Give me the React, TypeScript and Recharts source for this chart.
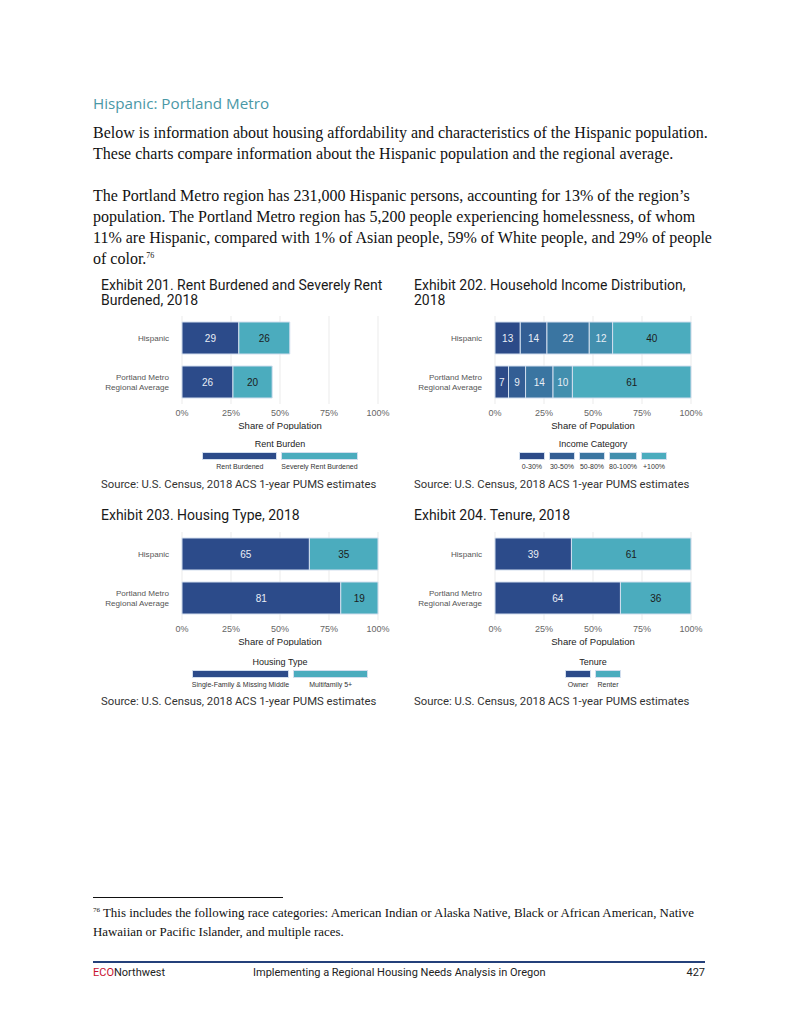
import React from 'react';
import { BarChart, Bar, XAxis, YAxis, CartesianGrid, LabelList } from 'recharts';

// categories shared by all four exhibits (line break = label wrap)
const CATEGORIES = ['Hispanic', 'Portland Metro\nRegional Average'];
const X_TICKS = [0, 25, 50, 75, 100];

// Exhibit 201 – rent burden (% of households)
const RENT_BURDENED = [29, 26];
const SEVERELY_BURDENED = [26, 20];

// Exhibit 202 – household income distribution (% share)
const INC_0_30 = [12.9, 6.9];
const INC_30_50 = [13.6, 8.7];
const INC_50_80 = [21.6, 14.0];
const INC_80_100 = [11.9, 9.9];
const INC_100_PLUS = [40.0, 60.5];

// Exhibit 203 – housing type
const SINGLE_FAMILY = [65, 81];
const MULTIFAMILY = [35, 19];

// Exhibit 204 – tenure
const OWNER = [39, 64];
const RENTER = [61, 36];

const NAVY = '#2c4b8a';
const TEAL = '#4bacbe';
const LIGHT_TXT = '#e9eef6';
const DARK_TXT = '#1c1c1c';

type Series = { key: string; name: string; values: number[]; color: string; text: string };

const rentSeries: Series[] = [
  { key: 'rb', name: 'Rent Burdened', values: RENT_BURDENED, color: NAVY, text: LIGHT_TXT },
  { key: 'srb', name: 'Severely Rent Burdened', values: SEVERELY_BURDENED, color: TEAL, text: DARK_TXT },
];
const incomeSeries: Series[] = [
  { key: 'i1', name: '0-30%', values: INC_0_30, color: '#2c4a88', text: LIGHT_TXT },
  { key: 'i2', name: '30-50%', values: INC_30_50, color: '#335e94', text: LIGHT_TXT },
  { key: 'i3', name: '50-80%', values: INC_50_80, color: '#3a75a1', text: LIGHT_TXT },
  { key: 'i4', name: '80-100%', values: INC_80_100, color: '#428fae', text: LIGHT_TXT },
  { key: 'i5', name: '+100%', values: INC_100_PLUS, color: TEAL, text: DARK_TXT },
];
const housingSeries: Series[] = [
  { key: 'sf', name: 'Single-Family & Missing Middle', values: SINGLE_FAMILY, color: NAVY, text: LIGHT_TXT },
  { key: 'mf', name: 'Multifamily 5+', values: MULTIFAMILY, color: TEAL, text: DARK_TXT },
];
const tenureSeries: Series[] = [
  { key: 'own', name: 'Owner', values: OWNER, color: NAVY, text: LIGHT_TXT },
  { key: 'rent', name: 'Renter', values: RENTER, color: TEAL, text: DARK_TXT },
];

const CHART_FONT = '"Liberation Sans", Arial, sans-serif';
const TITLE_FONT = 'Roboto, "Liberation Sans", sans-serif';
const BODY_FONT = '"Liberation Serif", serif';

function CategoryTick({ x, y, payload }: any) {
  const lines = String(payload.value).split('\n');
  const lh = 10;
  return (
    <text x={x} y={y} textAnchor="end" fontSize={8.1} fill="#555" fontFamily={CHART_FONT}>
      {lines.map((l, i) => (
        <tspan key={i} x={x} dy={i === 0 ? 3 - ((lines.length - 1) * lh) / 2 : lh}>
          {l}
        </tspan>
      ))}
    </text>
  );
}

function StackChart({ series, left, top }: { series: Series[]; left: number; top: number }) {
  const data = CATEGORIES.map((name, i) => {
    const row: Record<string, string | number> = { name };
    series.forEach(s => (row[s.key] = s.values[i]));
    return row;
  });
  return (
    <div style={{ position: 'absolute', left, top, width: 300, height: 119 }}>
      <BarChart
        width={300}
        height={119}
        data={data}
        layout="vertical"
        margin={{ top: 5, right: 17, bottom: 0, left: 0 }}
        style={{ fontFamily: CHART_FONT }}
      >
        <CartesianGrid horizontal={false} stroke="#ebebeb" />
        <XAxis
          type="number"
          domain={[0, 100]}
          ticks={X_TICKS}
          tickFormatter={v => `${v}%`}
          axisLine={false}
          tickLine={false}
          tickSize={0}
          tickMargin={6}
          height={26}
          tick={{ fontSize: 9, fill: '#666' }}
          label={{ value: 'Share of Population', position: 'insideBottom', offset: 1, fontSize: 9.5, fill: '#222' }}
        />
        <YAxis
          type="category"
          dataKey="name"
          width={87}
          axisLine={false}
          tickLine={false}
          tickSize={0}
          tickMargin={13}
          tick={<CategoryTick />}
        />
        {series.map(s => (
          <Bar
            key={s.key}
            dataKey={s.key}
            stackId="a"
            fill={s.color}
            stroke="#d2deee"
            strokeWidth={1}
            barSize={32}
            isAnimationActive={false}
          >
            <LabelList
              dataKey={s.key}
              position="center"
              formatter={(v: any) => Math.round(Number(v))}
              fill={s.text}
              fontSize={10}
              fontFamily={CHART_FONT}
            />
          </Bar>
        ))}
      </BarChart>
    </div>
  );
}

function Legend({ title, series, centerX, top, keyWidth }: { title: string; series: Series[]; centerX: number; top: number; keyWidth: number }) {
  return (
    <div
      style={{
        position: 'absolute',
        left: centerX - 200,
        width: 400,
        top,
        display: 'flex',
        flexDirection: 'column',
        alignItems: 'center',
        fontFamily: CHART_FONT,
      }}
    >
      <div style={{ fontSize: 9, lineHeight: '12px', color: '#222', marginBottom: 2 }}>{title}</div>
      <div style={{ display: 'flex', gap: 4 }}>
        {series.map(s => (
          <div key={s.key} style={{ display: 'flex', flexDirection: 'column', alignItems: 'stretch', minWidth: keyWidth }}>
            <div style={{ height: 6, background: s.color, border: '0.5px solid #d2deee' }} />
            <div style={{ fontSize: 7, lineHeight: '10px', marginTop: 2, color: '#333', textAlign: 'center', whiteSpace: 'nowrap' }}>
              {s.name}
            </div>
          </div>
        ))}
      </div>
    </div>
  );
}

const abs = (left: number, top: number, extra: React.CSSProperties = {}): React.CSSProperties => ({
  position: 'absolute',
  left,
  top,
  whiteSpace: 'nowrap',
  ...extra,
});

const titleStyle: React.CSSProperties = { fontFamily: TITLE_FONT, fontSize: 14, lineHeight: '15px', color: '#1a1a1a' };
const sourceStyle: React.CSSProperties = { fontFamily: TITLE_FONT, fontSize: 11.3, lineHeight: '16px', color: '#333' };
const bodyStyle: React.CSSProperties = { fontFamily: BODY_FONT, fontSize: 16, lineHeight: '21px', color: '#111' };
const SOURCE = 'Source: U.S. Census, 2018 ACS 1-year PUMS estimates';

export default function App() {
  return (
    <div style={{ position: 'absolute', left: 0, top: 0, width: 800, height: 1035, background: '#fff', overflow: 'hidden' }}>
      <div style={abs(93, 93, { fontFamily: '"Open Sans", sans-serif', fontSize: 15.2, lineHeight: '20px', color: '#4a98a6' })}>
        Hispanic: Portland Metro
      </div>
      <div style={abs(93, 121.5, bodyStyle)}>
        Below is information about housing affordability and characteristics of the Hispanic population.
        <br />
        These charts compare information about the Hispanic population and the regional average.
      </div>
      <div style={abs(93, 184.5, bodyStyle)}>
        The Portland Metro region has 231,000 Hispanic persons, accounting for 13% of the region’s
        <br />
        population. The Portland Metro region has 5,200 people experiencing homelessness, of whom
        <br />
        11% are Hispanic, compared with 1% of Asian people, 59% of White people, and 29% of people
        <br />
        of color.<span style={{ fontSize: 8, verticalAlign: 'super', lineHeight: 0 }}>76</span>
      </div>

      <div style={abs(101, 277.5, titleStyle)}>
        Exhibit 201. Rent Burdened and Severely Rent
        <br />
        Burdened, 2018
      </div>
      <div style={abs(414, 277.5, titleStyle)}>
        Exhibit 202. Household Income Distribution,
        <br />
        2018
      </div>
      <StackChart series={rentSeries} left={95} top={311} />
      <StackChart series={incomeSeries} left={408} top={311} />
      <Legend title="Rent Burden" series={rentSeries} centerX={280} top={438} keyWidth={75} />
      <Legend title="Income Category" series={incomeSeries} centerX={593} top={438} keyWidth={26} />
      <div style={abs(101, 477, sourceStyle)}>{SOURCE}</div>
      <div style={abs(414, 477, sourceStyle)}>{SOURCE}</div>

      <div style={abs(101, 507.5, titleStyle)}>Exhibit 203. Housing Type, 2018</div>
      <div style={abs(414, 507.5, titleStyle)}>Exhibit 204. Tenure, 2018</div>
      <StackChart series={housingSeries} left={95} top={527} />
      <StackChart series={tenureSeries} left={408} top={527} />
      <Legend title="Housing Type" series={housingSeries} centerX={280} top={656} keyWidth={75} />
      <Legend title="Tenure" series={tenureSeries} centerX={593} top={656} keyWidth={26} />
      <div style={abs(101, 694, sourceStyle)}>{SOURCE}</div>
      <div style={abs(414, 694, sourceStyle)}>{SOURCE}</div>

      <div style={abs(93, 897, { width: 190, height: 1, background: '#111' })} />
      <div style={abs(93, 903.5, { fontFamily: BODY_FONT, fontSize: 12.9, lineHeight: '19px', color: '#111' })}>
        <span style={{ fontSize: 7, verticalAlign: 'super', lineHeight: 0 }}>76</span> This includes the following race
        categories: American Indian or Alaska Native, Black or African American, Native
        <br />
        Hawaiian or Pacific Islander, and multiple races.
      </div>

      <div style={abs(93, 961, { width: 612, height: 2, background: '#24407a' })} />
      <div style={abs(93, 966, { fontFamily: TITLE_FONT, fontSize: 11, lineHeight: '14px', color: '#222' })}>
        <span style={{ color: '#c8102e' }}>ECO</span>Northwest
      </div>
      <div style={abs(253, 966, { fontFamily: TITLE_FONT, fontSize: 11, lineHeight: '14px', color: '#222' })}>
        Implementing a Regional Housing Needs Analysis in Oregon
      </div>
      <div style={abs(685, 966, { fontFamily: TITLE_FONT, fontSize: 11, lineHeight: '14px', color: '#222', width: 20, textAlign: 'right' })}>
        427
      </div>
    </div>
  );
}
